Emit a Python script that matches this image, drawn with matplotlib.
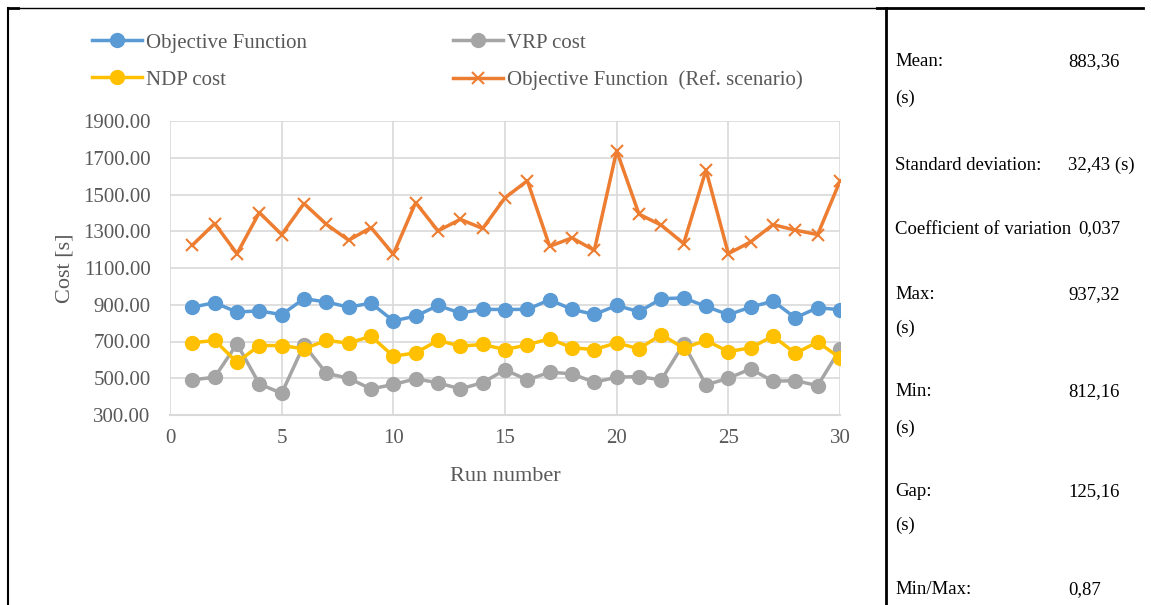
import matplotlib.pyplot as plt
from matplotlib.lines import Line2D

plt.rcParams['font.family'] = ['Liberation Serif', 'DejaVu Serif']

# run numbers 1..30
runs = list(range(1, 31))

obj_fn = [887, 911, 860, 867, 846, 933, 915, 887, 909, 812.16,
          838, 896, 855, 875, 874, 875, 927, 875, 847, 896,
          862, 933, 937.32, 891, 846, 887, 920, 829, 884, 873]
vrp_cost = [491, 506, 687, 469, 418, 682, 527, 500, 442, 466,
            497, 475, 442, 476, 546, 491, 533, 524, 478, 506,
            509, 491, 687, 464, 500, 551, 484, 487, 460, 658]
ndp_cost = [693, 706, 587, 678, 678, 660, 706, 691, 729, 620,
            638, 706, 675, 684, 656, 682, 715, 666, 656, 693,
            660, 738, 664, 706, 645, 666, 729, 636, 697, 611]
obj_ref = [1224, 1342, 1178, 1402, 1282, 1451, 1338, 1251, 1320, 1175,
           1456, 1302, 1365, 1315, 1482, 1575, 1218, 1264, 1196, 1738,
           1393, 1333, 1233, 1633, 1178, 1242, 1336, 1306, 1282, 1573]

stat_labels = ['Mean:', '(s)', 'Standard deviation:', 'Coefficient of variation',
               'Max:', '(s)', 'Min:', '(s)', 'Gap:', '(s)', 'Min/Max:']
stat_values = ['883,36', '', '32,43 (s)', '0,037',
               '937,32', '', '812,16', '', '125,16', '', '0,87']
stat_y = [62, 98, 165, 229, 295, 328, 392, 428, 492, 525, 590]

W, H = 1151, 605
fig = plt.figure(figsize=(W / 100, H / 100), dpi=100)
ax = fig.add_axes([170 / W, 1 - 415 / H, 670 / W, 294 / H])

blue, gray, yellow, orange = '#5B9BD5', '#A5A5A5', '#FFC000', '#ED7D31'
grid_c = '#D9D9D9'
txt_c = '#595959'

l1, = ax.plot(runs, obj_fn, color=blue, lw=2.5, marker='o', ms=10, label='Objective Function', zorder=3)
l2, = ax.plot(runs, vrp_cost, color=gray, lw=2.5, marker='o', ms=10, label='VRP cost', zorder=3)
l3, = ax.plot(runs, ndp_cost, color=yellow, lw=2.5, marker='o', ms=10, label='NDP cost', zorder=3)
l4, = ax.plot(runs, obj_ref, color=orange, lw=2.5, marker='x', ms=9, mew=1.5,
              label='Objective Function  (Ref. scenario)', zorder=3)

ax.set_xlim(0, 30)
ax.set_ylim(300, 1900)
ax.set_xticks(range(0, 31, 5))
ax.set_yticks(range(300, 1901, 200))
ax.set_yticklabels(['%.2f' % v for v in range(300, 1901, 200)])
ax.grid(True, color=grid_c, lw=1.2)
ax.set_axisbelow(True)
for s in ['top', 'right', 'left']:
    ax.spines[s].set_visible(False)
ax.spines['bottom'].set_color(grid_c)
ax.spines['bottom'].set_linewidth(1.5)
ax.tick_params(length=0, labelsize=15, colors=txt_c)
ax.tick_params(axis='y', pad=14)
ax.tick_params(axis='x', pad=10)
ax.set_xlabel('Run number', fontsize=16, color=txt_c, labelpad=14)
ax.set_ylabel('Cost [s]', fontsize=16, color=txt_c, labelpad=6)

fig.legend(handles=[l1, l3, l2, l4], ncol=2, loc='upper left',
           bbox_to_anchor=(92 / W, 1 - 33 / H), frameon=False,
           fontsize=15, handlelength=2.4, handletextpad=0.2,
           columnspacing=7.0, labelspacing=0.84, labelcolor=txt_c,
           borderaxespad=0, borderpad=0)

# table borders
k = 'black'
fig.add_artist(Line2D([8 / W, 18 / W], [1 - 8 / H] * 2, color=k, lw=2))
fig.add_artist(Line2D([18 / W, 877 / W], [1 - 8 / H] * 2, color=k, lw=1))
fig.add_artist(Line2D([877 / W, 1143 / W], [1 - 8 / H] * 2, color=k, lw=2))
fig.add_artist(Line2D([8 / W, 8 / W], [0, 1 - 8 / H], color=k, lw=1.5))
fig.add_artist(Line2D([886 / W, 886 / W], [0, 1 - 8 / H], color=k, lw=2))

for lab, val, y in zip(stat_labels, stat_values, stat_y):
    fig.text(895 / W, 1 - y / H, lab, fontsize=13.5, va='center', ha='left', color='black')
    if val:
        x = 1078 if lab.startswith('Coefficient') else 1068
        fig.text(x / W, 1 - y / H, val, fontsize=13.5, va='center', ha='left', color='black')

fig.savefig('out.png', dpi=100)
